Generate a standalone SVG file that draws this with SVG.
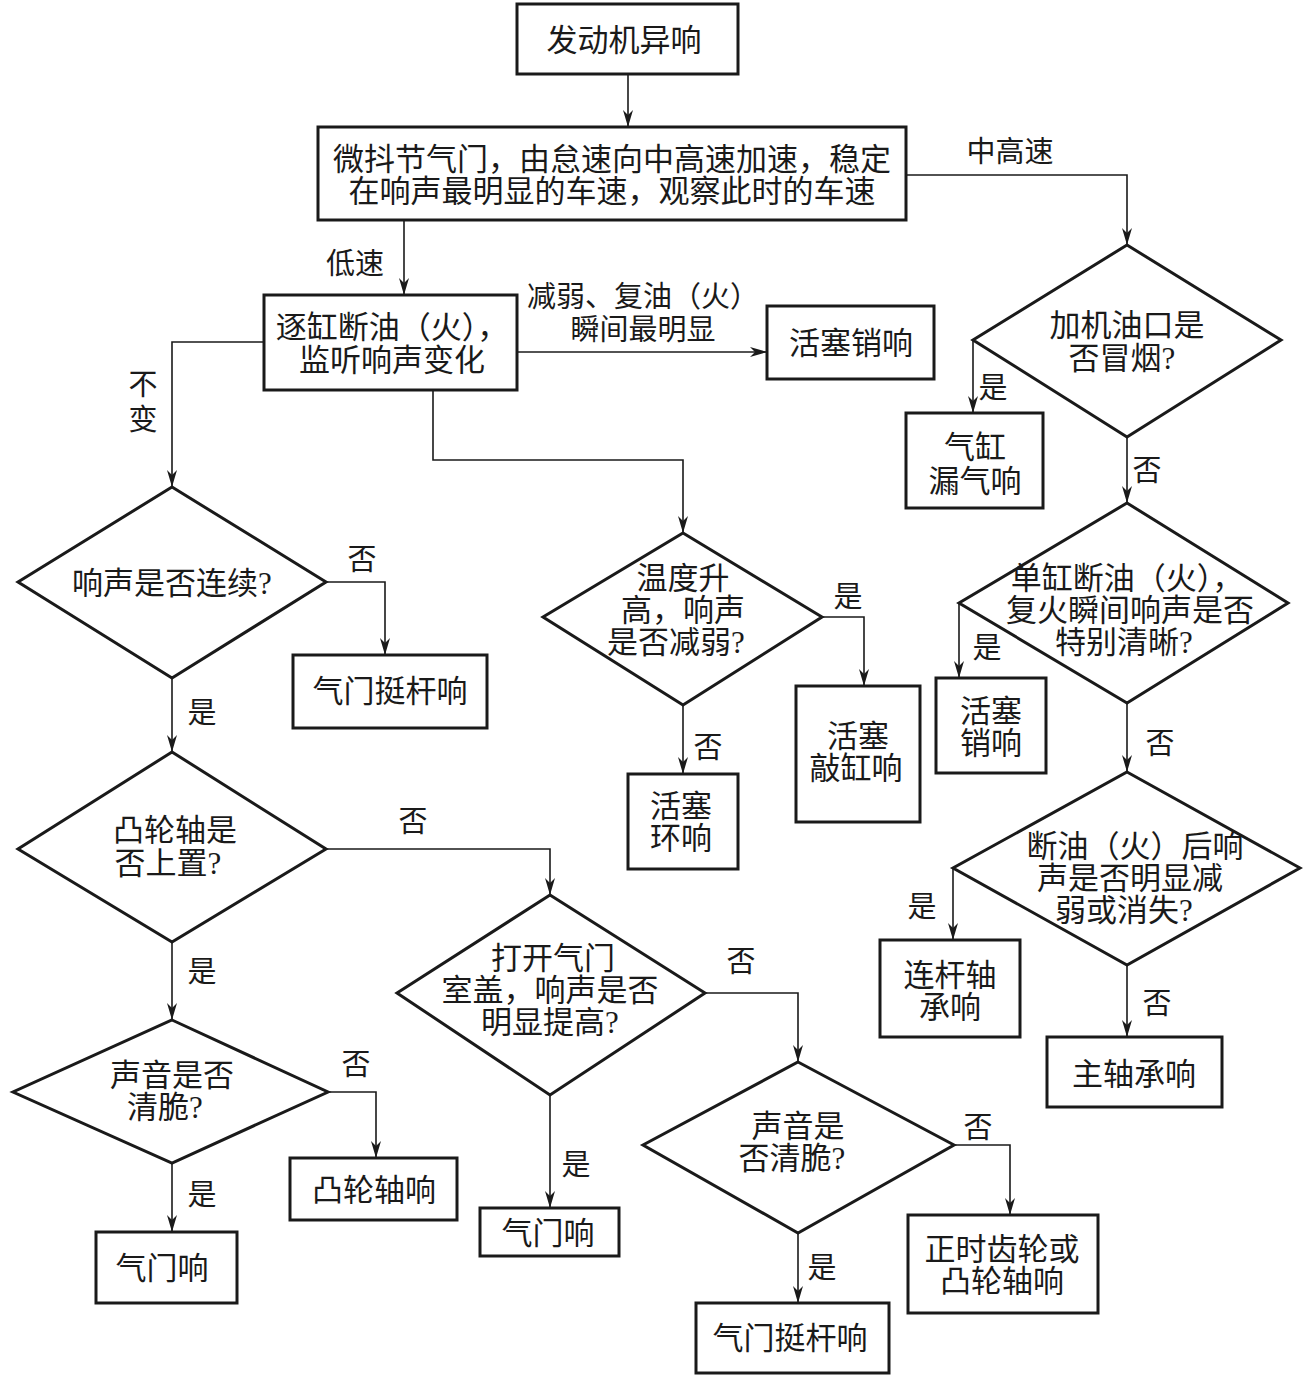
<svg xmlns="http://www.w3.org/2000/svg" width="1303" height="1377" viewBox="0 0 1303 1377">
<style>
.n{fill:#fff;stroke:#1a1a1a;stroke-width:3}
.t{font-family:"Liberation Serif","Noto Sans CJK SC",serif;font-size:31px;fill:#1a1a1a;text-anchor:middle;dominant-baseline:central}
.l{font-family:"Liberation Serif","Noto Sans CJK SC",serif;font-size:29px;fill:#1a1a1a;text-anchor:middle;dominant-baseline:central}
.c{fill:none;stroke:#1a1a1a;stroke-width:1.6;marker-end:url(#ah)}
</style>
<defs>
<marker id="ah" markerUnits="userSpaceOnUse" markerWidth="18" markerHeight="10" refX="17" refY="5" orient="auto">
<path d="M0,0 L17,5 L0,10 L5,5 z" fill="#1a1a1a"/>
</marker>
</defs>
<rect width="1303" height="1377" fill="#fff"/>
<g id="connectors">
<path class="c" d="M628,74 V127"/>
<path class="c" d="M906,175 H1127 V245"/>
<path class="c" d="M404,220 V295"/>
<path class="c" d="M517,352 H767"/>
<path class="c" d="M264,342 H172 V487"/>
<path class="c" d="M433,390 V460 H683 V533"/>
<path class="c" d="M973,340 V413"/>
<path class="c" d="M1127,437 V503"/>
<path class="c" d="M959,603 V678"/>
<path class="c" d="M1127,703 V772"/>
<path class="c" d="M953,868 V940"/>
<path class="c" d="M1127,965 V1037"/>
<path class="c" d="M326,582 H385 V655"/>
<path class="c" d="M172,678 V752"/>
<path class="c" d="M326,849 H550 V895"/>
<path class="c" d="M172,942 V1020"/>
<path class="c" d="M328,1092 H376 V1158"/>
<path class="c" d="M172,1163 V1232"/>
<path class="c" d="M822,617 H864 V686"/>
<path class="c" d="M683,705 V774"/>
<path class="c" d="M705,993 H798 V1062"/>
<path class="c" d="M550,1095 V1208"/>
<path class="c" d="M954,1145 H1010 V1215"/>
<path class="c" d="M798,1233 V1303"/>
<text class="l" x="1010" y="152">中高速</text>
<text class="l" x="355" y="264">低速</text>
<text class="l" x="643" y="297">减弱、复油（火）</text>
<text class="l" x="643" y="330">瞬间最明显</text>
<text class="l" x="143" y="385">不</text>
<text class="l" x="143" y="420">变</text>
<text class="l" x="993" y="388">是</text>
<text class="l" x="1147" y="471">否</text>
<text class="l" x="987" y="648">是</text>
<text class="l" x="1160" y="744">否</text>
<text class="l" x="922" y="907">是</text>
<text class="l" x="1157" y="1004">否</text>
<text class="l" x="362" y="560">否</text>
<text class="l" x="202" y="713">是</text>
<text class="l" x="413" y="822">否</text>
<text class="l" x="202" y="972">是</text>
<text class="l" x="356" y="1065">否</text>
<text class="l" x="202" y="1195">是</text>
<text class="l" x="848" y="597">是</text>
<text class="l" x="708" y="748">否</text>
<text class="l" x="741" y="962">否</text>
<text class="l" x="576" y="1165">是</text>
<text class="l" x="978" y="1128">否</text>
<text class="l" x="822" y="1268">是</text>
</g>
<g id="n1"><rect class="n" x="517" y="4" width="221" height="70"/><text class="t" x="624" y="40">发动机异响</text></g>
<g id="n2"><rect class="n" x="318" y="127" width="588" height="93"/><text class="t" x="612" y="159">微抖节气门，由怠速向中高速加速，稳定</text><text class="t" x="612" y="191">在响声最明显的车速，观察此时的车速</text></g>
<g id="n3"><rect class="n" x="264" y="295" width="253" height="95"/><text class="t" x="392" y="327">逐缸断油（火），</text><text class="t" x="392" y="360">监听响声变化</text></g>
<g id="n4"><rect class="n" x="767" y="306" width="167" height="73"/><text class="t" x="851" y="343">活塞销响</text></g>
<g id="d1"><polygon class="n" points="1127,245 1281,340 1127,437 973,340"/><text class="t" x="1127" y="325">加机油口是</text><text class="t" x="1122" y="358">否冒烟?</text></g>
<g id="n5"><rect class="n" x="906" y="413" width="137" height="95"/><text class="t" x="975" y="447">气缸</text><text class="t" x="975" y="481">漏气响</text></g>
<g id="d2"><polygon class="n" points="1127,503 1288,603 1127,703 959,603"/><text class="t" x="1127" y="578">单缸断油（火），</text><text class="t" x="1130" y="610">复火瞬间响声是否</text><text class="t" x="1124" y="642">特别清晰?</text></g>
<g id="n6"><rect class="n" x="936" y="678" width="110" height="95"/><text class="t" x="991" y="711">活塞</text><text class="t" x="991" y="743">销响</text></g>
<g id="d3"><polygon class="n" points="1127,772 1300,868 1127,965 953,868"/><text class="t" x="1135" y="846">断油（火）后响</text><text class="t" x="1130" y="878">声是否明显减</text><text class="t" x="1124" y="910">弱或消失?</text></g>
<g id="n7"><rect class="n" x="880" y="940" width="140" height="97"/><text class="t" x="950" y="975">连杆轴</text><text class="t" x="950" y="1007">承响</text></g>
<g id="n8"><rect class="n" x="1047" y="1037" width="175" height="70"/><text class="t" x="1134" y="1074">主轴承响</text></g>
<g id="d4"><polygon class="n" points="172,487 326,582 172,678 18,582"/><text class="t" x="172" y="583">响声是否连续?</text></g>
<g id="n9"><rect class="n" x="293" y="655" width="194" height="73"/><text class="t" x="390" y="691">气门挺杆响</text></g>
<g id="d5"><polygon class="n" points="172,752 326,849 172,942 18,849"/><text class="t" x="175" y="830">凸轮轴是</text><text class="t" x="168" y="863">否上置?</text></g>
<g id="d6"><polygon class="n" points="172,1020 328,1092 172,1163 13,1092"/><text class="t" x="172" y="1075">声音是否</text><text class="t" x="165" y="1107">清脆?</text></g>
<g id="n10"><rect class="n" x="290" y="1158" width="167" height="62"/><text class="t" x="374" y="1190">凸轮轴响</text></g>
<g id="n11"><rect class="n" x="96" y="1232" width="141" height="71"/><text class="t" x="162" y="1268">气门响</text></g>
<g id="d7"><polygon class="n" points="683,533 822,617 683,705 543,617"/><text class="t" x="683" y="578">温度升</text><text class="t" x="683" y="610">高，响声</text><text class="t" x="676" y="642">是否减弱?</text></g>
<g id="n12"><rect class="n" x="796" y="686" width="124" height="136"/><text class="t" x="858" y="736">活塞</text><text class="t" x="856" y="768">敲缸响</text></g>
<g id="n13"><rect class="n" x="628" y="774" width="110" height="95"/><text class="t" x="681" y="806">活塞</text><text class="t" x="681" y="838">环响</text></g>
<g id="d8"><polygon class="n" points="550,895 705,993 550,1095 397,993"/><text class="t" x="553" y="958">打开气门</text><text class="t" x="550" y="990">室盖，响声是否</text><text class="t" x="550" y="1022">明显提高?</text></g>
<g id="n14"><rect class="n" x="480" y="1208" width="139" height="48"/><text class="t" x="548" y="1233">气门响</text></g>
<g id="d9"><polygon class="n" points="798,1062 954,1145 798,1233 643,1145"/><text class="t" x="798" y="1126">声音是</text><text class="t" x="792" y="1158">否清脆?</text></g>
<g id="n15"><rect class="n" x="908" y="1215" width="190" height="98"/><text class="t" x="1002" y="1249">正时齿轮或</text><text class="t" x="1002" y="1281">凸轮轴响</text></g>
<g id="n16"><rect class="n" x="696" y="1303" width="193" height="70"/><text class="t" x="790" y="1338">气门挺杆响</text></g>
</svg>
